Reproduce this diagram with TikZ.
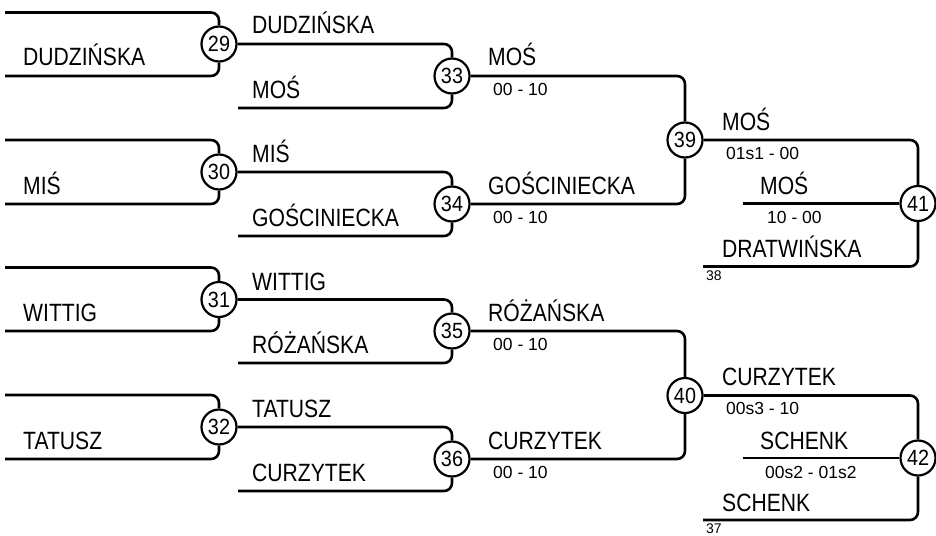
\documentclass[tikz,border=0pt]{standalone}
\usepackage{fontspec}
\setmainfont{Liberation Sans}
\newfontfamily\namefont[FakeStretch=0.845]{Liberation Sans}
\newfontfamily\numfont[FakeStretch=0.9]{Liberation Sans}
\begin{document}
\begin{tikzpicture}[x=1pt,y=-1pt,
  wire/.style={line width=2.6pt,rounded corners=8pt},
  circ/.style={circle,draw,line width=2.2pt,fill=white,minimum size=35pt,inner sep=0pt,font=\numfont\fontsize{22}{22}\selectfont},
  nm/.style={anchor=base west,inner sep=0pt,font=\namefont\fontsize{25}{25}\selectfont},
  sc/.style={anchor=base west,inner sep=0pt,font=\fontsize{17.5}{17.5}\selectfont},
  sm/.style={anchor=base west,inner sep=0pt,font=\fontsize{14}{14}\selectfont}]
\useasboundingbox (0,0) rectangle (936,535);

% circles
\node[circ] (c29) at (219,44) {29};
\node[circ] (c30) at (219,172) {30};
\node[circ] (c31) at (219,299.5) {31};
\node[circ] (c32) at (219,427) {32};
\node[circ] (c33) at (452,76) {33};
\node[circ] (c34) at (452,204) {34};
\node[circ] (c35) at (452,331) {35};
\node[circ] (c36) at (452,459) {36};
\node[circ] (c39) at (685,140) {39};
\node[circ] (c40) at (685,395.5) {40};
\node[circ] (c41) at (918,203.5) {41};
\node[circ] (c42) at (918,458) {42};

% free ends
\coordinate (a1) at (5,12.5);   \coordinate (a2) at (5,76);
\coordinate (a3) at (5,140);    \coordinate (a4) at (5,204);
\coordinate (a5) at (5,267.5);  \coordinate (a6) at (5,331);
\coordinate (a7) at (5,395);    \coordinate (a8) at (5,459);
\coordinate (b1) at (238,108);  \coordinate (b2) at (238,236);
\coordinate (b3) at (238,363);  \coordinate (b4) at (238,491);
\coordinate (m41) at (743,203.5); \coordinate (l41) at (703,266.5);
\coordinate (m42) at (743,458);   \coordinate (l42) at (703,520);

\draw[wire] (a1) -| (c29); \draw[wire] (a2) -| (c29);
\draw[wire] (a3) -| (c30); \draw[wire] (a4) -| (c30);
\draw[wire] (a5) -| (c31); \draw[wire] (a6) -| (c31);
\draw[wire] (a7) -| (c32); \draw[wire] (a8) -| (c32);
\draw[wire] (c29) -| (c33); \draw[wire] (b1) -| (c33);
\draw[wire] (c30) -| (c34); \draw[wire] (b2) -| (c34);
\draw[wire] (c31) -| (c35); \draw[wire] (b3) -| (c35);
\draw[wire] (c32) -| (c36); \draw[wire] (b4) -| (c36);
\draw[wire] (c33) -| (c39); \draw[wire] (c34) -| (c39);
\draw[wire] (c35) -| (c40); \draw[wire] (c36) -| (c40);
\draw[wire] (c39) -| (c41); \draw[wire] (m41) -- (c41); \draw[wire] (l41) -| (c41);
\draw[wire] (c40) -| (c42); \draw[wire] (m42) -- (c42); \draw[wire] (l42) -| (c42);

% round 1 names
\node[nm] (n1) at (23,66) {DUDZIŃSKA};
\node[nm] (n2) at (23,194) {MIŚ};
\node[nm] (n3) at (23,321) {WITTIG};
\node[nm] (n4) at (23,449) {TATUSZ};
% round 2 names
\node[nm] (p1) at (252,34) {DUDZIŃSKA};
\node[nm] (p2) at (252,98) {MOŚ};
\node[nm] (p3) at (252,162) {MIŚ};
\node[nm] (p4) at (252,226) {GOŚCINIECKA};
\node[nm] (p5) at (252,290) {WITTIG};
\node[nm] (p6) at (252,353) {RÓŻAŃSKA};
\node[nm] (p7) at (252,417) {TATUSZ};
\node[nm] (p8) at (252,481) {CURZYTEK};
% round 3
\node[nm] (q1) at (488,66) {MOŚ};
\node[sc] (s1) at (493,95) {00 - 10};
\node[nm] (q2) at (488,194) {GOŚCINIECKA};
\node[sc] (s2) at (493,223) {00 - 10};
\node[nm] (q3) at (488,321) {RÓŻAŃSKA};
\node[sc] (s3) at (493,350) {00 - 10};
\node[nm] (q4) at (488,449) {CURZYTEK};
\node[sc] (s4) at (493,478) {00 - 10};
% round 4 top
\node[nm] (r1) at (722,130) {MOŚ};
\node[sc] (t1) at (726,159) {01s1 - 00};
\node[nm] (r2) at (760,194) {MOŚ};
\node[sc] (t2) at (767,223) {10 - 00};
\node[nm] (r3) at (722,257) {DRATWIŃSKA};
\node[sm] (u1) at (706,280) {38};
% round 4 bottom
\node[nm] (r4) at (722,385) {CURZYTEK};
\node[sc] (t3) at (726,414) {00s3 - 10};
\node[nm] (r5) at (760,449) {SCHENK};
\node[sc] (t4) at (765,478) {00s2 - 01s2};
\node[nm] (r6) at (722,511) {SCHENK};
\node[sm] (u2) at (706,533.5) {37};
\end{tikzpicture}
\end{document}
